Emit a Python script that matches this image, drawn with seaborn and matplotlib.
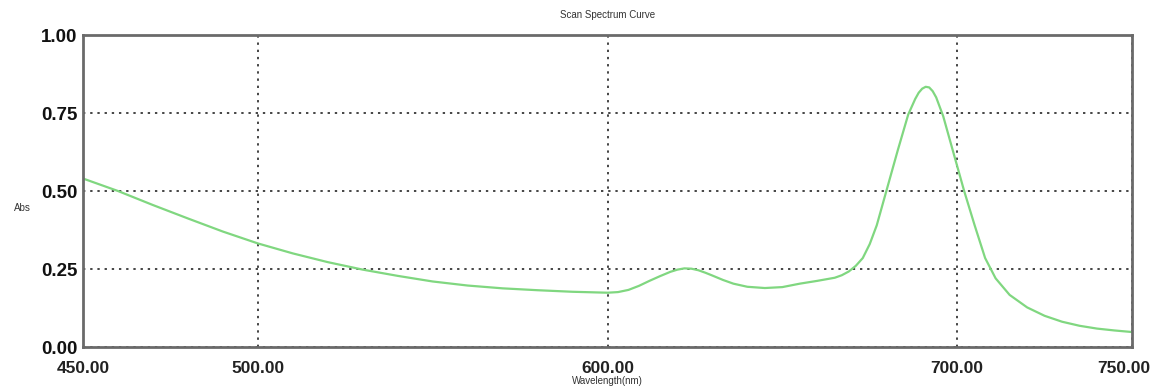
import matplotlib
matplotlib.use("Agg")
import matplotlib.pyplot as plt
import matplotlib.transforms as mtransforms
import seaborn as sns
import pandas as pd

wavelength = [450, 460, 470, 480, 490, 500, 510, 520, 530, 540, 550, 560, 570, 580, 590,
              600, 603, 606, 609, 612, 615, 618, 620, 622, 624, 626, 628, 630, 633, 636,
              640, 645, 650, 655, 660, 665, 667, 669, 671, 673, 675, 677, 680, 683, 686,
              688, 689, 690, 691, 692, 693, 694, 696, 699, 702, 705, 708, 711, 715, 720,
              725, 730, 735, 740, 745, 750]
absorbance = [0.54, 0.50, 0.455, 0.412, 0.37, 0.332, 0.30, 0.272, 0.248, 0.228, 0.21, 0.197, 0.188, 0.182, 0.177,
              0.174, 0.176, 0.183, 0.196, 0.212, 0.227, 0.241, 0.248, 0.252, 0.251, 0.246, 0.238, 0.229, 0.215, 0.203,
              0.193, 0.189, 0.192, 0.203, 0.212, 0.222, 0.23, 0.242, 0.26, 0.285, 0.33, 0.39, 0.51, 0.63, 0.745,
              0.795, 0.815, 0.828, 0.834, 0.832, 0.82, 0.80, 0.74, 0.62, 0.50, 0.39, 0.285, 0.22, 0.167, 0.127,
              0.10, 0.081, 0.068, 0.059, 0.053, 0.048]
x_ticks = [450, 500, 600, 700, 750]
y_ticks = [0.0, 0.25, 0.5, 0.75, 1.0]

df = pd.DataFrame({"Wavelength": wavelength, "Abs": absorbance})

sns.set_style("white")
plt.rcParams['font.family'] = ['Liberation Sans', 'DejaVu Sans']

fig = plt.figure(figsize=(11.54, 3.87), dpi=100)
ax = fig.add_axes([83/1154, 40/387, (1132-83)/1154, (347-35)/387])

sns.lineplot(data=df, x="Wavelength", y="Abs", ax=ax, color="#80d780", linewidth=1.6)

ax.set_xlim(450, 750)
ax.set_ylim(0, 1.0)
ax.set_xticks(x_ticks)
ax.set_xticklabels([f"{t:.2f}" for t in x_ticks], fontsize=12.5, fontweight="bold", color="#222222")
ax.set_yticks(y_ticks)
ax.set_yticklabels([f"{t:.2f}" for t in y_ticks], fontsize=13.5, fontweight="bold", color="#111111")
ax.tick_params(axis="both", length=2, width=0.8, color="#555555")
ax.tick_params(axis="x", pad=8)
ax.tick_params(axis="y", pad=2)

# nudge the last x label left so it stays inside the canvas
last = ax.get_xticklabels()[-1]
last.set_transform(last.get_transform() + mtransforms.ScaledTranslation(-6/72, 0, fig.dpi_scale_trans))

ax.grid(True, linestyle=(0, (1.2, 2.5)), color="#444444", linewidth=1.4)
for s in ax.spines.values():
    s.set_color("#6a6a6a")
    s.set_linewidth(2)

ax.set_xlabel("Wavelength(nm)", fontsize=7, color="#333333", labelpad=0)
ax.set_ylabel("Abs", fontsize=7, color="#333333", rotation=0)
ax.yaxis.set_label_coords(-0.058, 0.43)
ax.set_title("Scan Spectrum Curve", fontsize=7, color="#333333", pad=12)

fig.savefig("out.png", dpi=100)
